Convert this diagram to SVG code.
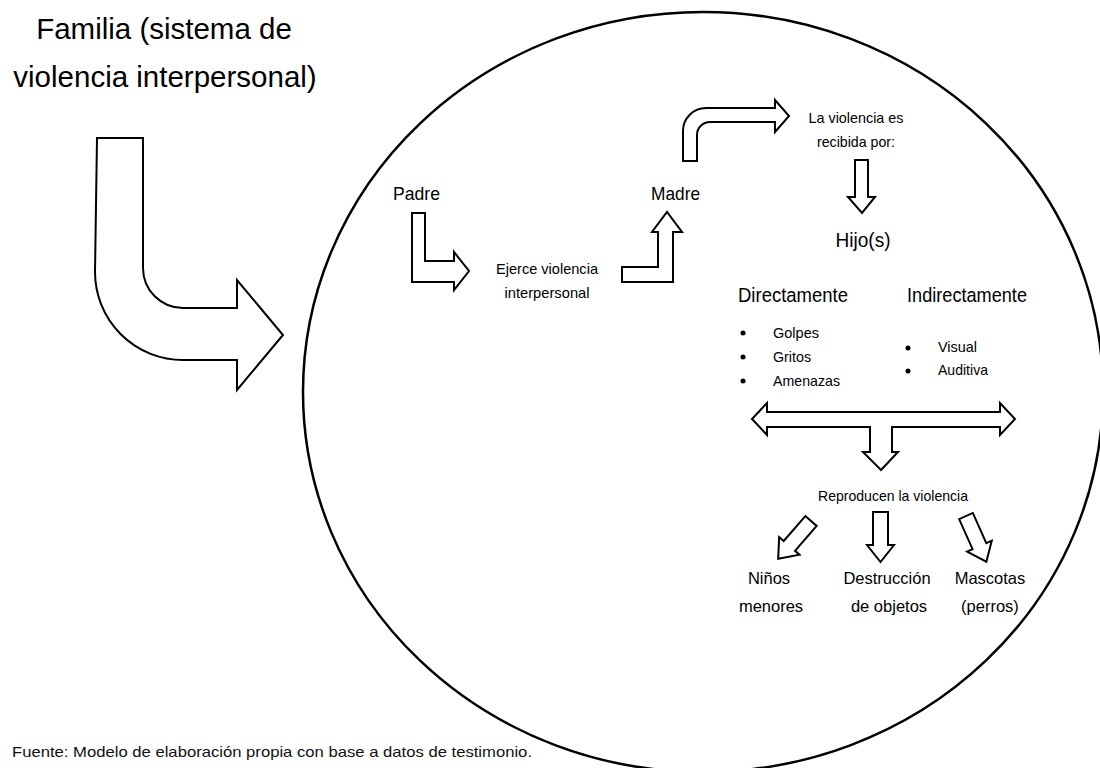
<svg xmlns="http://www.w3.org/2000/svg" width="1100" height="768" viewBox="0 0 1100 768">
<style>
.t{font-family:"Liberation Sans",Arial,sans-serif;fill:#000}
.m{text-anchor:middle}
.arr{fill:#fff;stroke:#000;stroke-width:2;stroke-linejoin:miter}
.dot{fill:#000}
.foot{font-family:"Liberation Sans",Arial,sans-serif;font-size:15px;fill:#111}
</style>
<defs>
<path id="down" d="M-7.5,0 L7.5,0 L7.5,33 L13.5,33 L0,50 L-13.5,33 L-7.5,33 Z"/>
</defs>
<rect width="1100" height="768" fill="#fff"/>
<g id="title">
<text class="t m" x="164" y="39" font-size="29.5">Familia (sistema de</text>
<text class="t m" x="165" y="87" font-size="29.5">violencia interpersonal)</text>
</g>
<g id="familia-circle">
<ellipse cx="703" cy="392" rx="400" ry="380" fill="none" stroke="#000" stroke-width="2.5"/>
</g>
<g id="connectors">
<path class="arr" d="M97,138 L143,138 L143,268 A40,40 0 0 0 183,308 L237,308 L237,280 L283,335 L237,390 L237,360 L183,360 A88,88 0 0 1 95,272 Z"/>
<path class="arr" d="M412,213 L425,213 L425,261 L454,261 L454,252 L469,271 L454,290 L454,282 L412,282 Z"/>
<path class="arr" d="M622,267 L658,267 L658,232 L652,232 L667,212 L682,232 L673,232 L673,282 L622,282 Z"/>
<path class="arr" d="M683,161 L683,131 A23,23 0 0 1 706,108 L775,108 L775,100 L789,116 L775,132 L775,122 L710,122 A13,13 0 0 0 697,135 L697,161 Z"/>
<path class="arr" d="M855,160 L868,160 L868,197 L875,197 L862,213 L848,197 L855,197 Z"/>
<path class="arr" d="M752,419 L767,403 L767,412 L1000,412 L1000,403 L1015,419 L1000,435 L1000,427 L892,427 L892,452 L898,452 L881,470 L863,452 L870,452 L870,427 L767,427 L767,435 Z"/>
<use href="#down" class="arr" transform="translate(811,521) rotate(41)"/>
<use href="#down" class="arr" transform="translate(880.5,512)"/>
<use href="#down" class="arr" transform="translate(966,516) rotate(-24)"/>
</g>
<g id="padre"><text class="t" x="393" y="200" font-size="19" textLength="47" lengthAdjust="spacingAndGlyphs">Padre</text></g>
<g id="ejerce">
<text class="t m" x="547" y="274" font-size="14.5" textLength="102" lengthAdjust="spacingAndGlyphs">Ejerce violencia</text>
<text class="t m" x="547" y="298" font-size="14.5" textLength="85" lengthAdjust="spacingAndGlyphs">interpersonal</text>
</g>
<g id="madre"><text class="t" x="651" y="200" font-size="19" textLength="49" lengthAdjust="spacingAndGlyphs">Madre</text></g>
<g id="recibida">
<text class="t m" x="856" y="123" font-size="14.5" textLength="95" lengthAdjust="spacingAndGlyphs">La violencia es</text>
<text class="t m" x="856" y="147" font-size="14.5" textLength="78" lengthAdjust="spacingAndGlyphs">recibida por:</text>
</g>
<g id="hijos"><text class="t m" x="863" y="247" font-size="21" textLength="55" lengthAdjust="spacingAndGlyphs">Hijo(s)</text></g>
<g id="directamente">
<text class="t" x="738" y="302" font-size="20.5" textLength="110" lengthAdjust="spacingAndGlyphs">Directamente</text>
<circle class="dot" cx="743" cy="333" r="2.5"/>
<text class="t" x="773" y="338" font-size="14.5" textLength="46" lengthAdjust="spacingAndGlyphs">Golpes</text>
<circle class="dot" cx="743" cy="357" r="2.5"/>
<text class="t" x="773" y="362" font-size="14.5" textLength="38" lengthAdjust="spacingAndGlyphs">Gritos</text>
<circle class="dot" cx="743" cy="381" r="2.5"/>
<text class="t" x="773" y="386" font-size="14.5" textLength="67" lengthAdjust="spacingAndGlyphs">Amenazas</text>
</g>
<g id="indirectamente">
<text class="t" x="907" y="302" font-size="20.5" textLength="120" lengthAdjust="spacingAndGlyphs">Indirectamente</text>
<circle class="dot" cx="908" cy="348" r="2.5"/>
<text class="t" x="938" y="352" font-size="14.5" textLength="39" lengthAdjust="spacingAndGlyphs">Visual</text>
<circle class="dot" cx="908" cy="371" r="2.5"/>
<text class="t" x="938" y="375" font-size="14.5" textLength="50" lengthAdjust="spacingAndGlyphs">Auditiva</text>
</g>
<g id="reproducen"><text class="t m" x="893" y="501" font-size="14.5" textLength="150" lengthAdjust="spacingAndGlyphs">Reproducen la violencia</text></g>
<g id="ninos">
<text class="t m" x="769" y="584" font-size="16.5">Niños</text>
<text class="t m" x="771" y="612" font-size="16.5">menores</text>
</g>
<g id="destruccion">
<text class="t m" x="887" y="584" font-size="16.5">Destrucción</text>
<text class="t m" x="889" y="612" font-size="16.5">de objetos</text>
</g>
<g id="mascotas">
<text class="t m" x="990" y="584" font-size="16.5">Mascotas</text>
<text class="t m" x="990" y="612" font-size="16.5">(perros)</text>
</g>
<g id="fuente"><text class="foot" x="12" y="757" textLength="520" lengthAdjust="spacingAndGlyphs">Fuente: Modelo de elaboración propia con base a datos de testimonio.</text></g>
</svg>
